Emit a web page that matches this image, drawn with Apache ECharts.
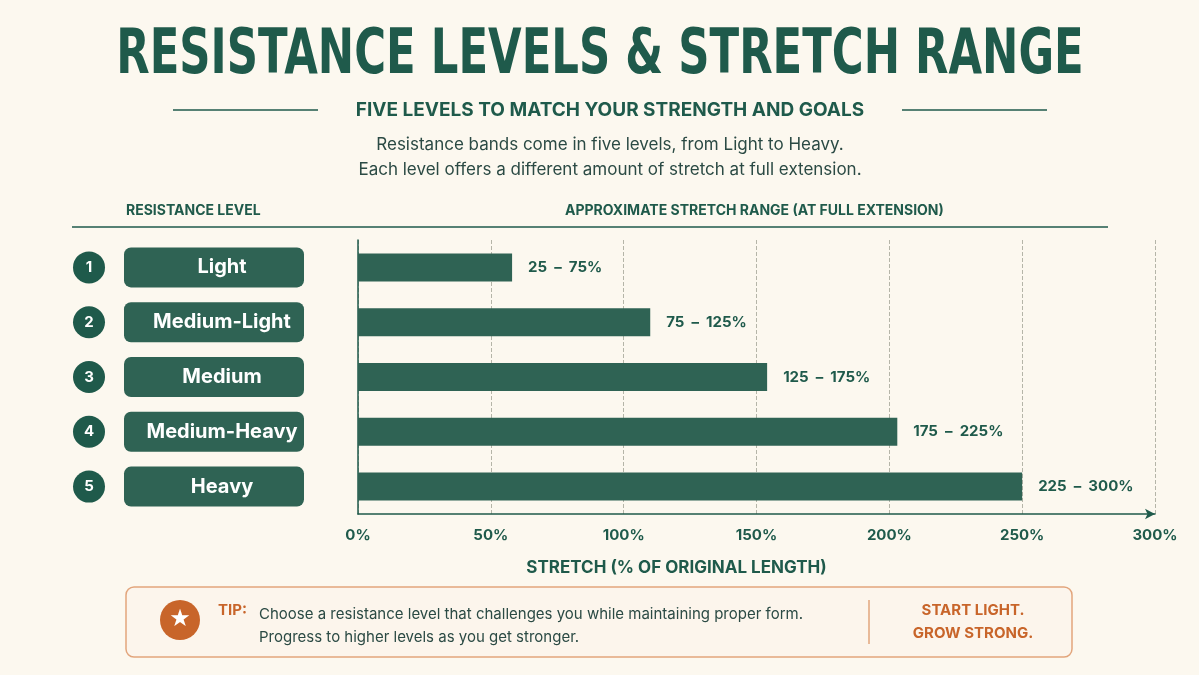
<!DOCTYPE html>
<html><head><meta charset="utf-8">
<script src="https://cdn.jsdelivr.net/npm/echarts@6/dist/echarts.min.js"></script>
<style>html,body{margin:0;padding:0;background:#fcf8ef}#c{width:1199px;height:675px}</style>
</head><body><div id="c"></div>
<script>
const levels = ['Light','Medium-Light','Medium','Medium-Heavy','Heavy'];
const barEnds = [58, 110, 154, 203, 250];
const rangeLow = [25, 75, 125, 175, 225];
const rangeHigh = [75, 125, 175, 225, 300];
const tickLabels = ['0%','50%','100%','150%','200%','250%','300%'];

const G = '#1f5a4b', BAR = '#2f6354', OR = '#c8652a';
const chart = echarts.init(document.getElementById('c'));
chart.setOption({
  backgroundColor: '#fcf8ef',
  textStyle: {fontFamily: 'Inter, "Noto Sans", sans-serif'},
  grid: {left: 358, right: 44, top: 240, bottom: 161},
  xAxis: {type: 'value', min: 0, max: 300, interval: 50,
    axisLine: {show: true, lineStyle: {color: G, width: 1.5}, symbol: ['none','arrow'], symbolSize: [8,10]},
    axisTick: {show: false},
    splitLine: {show: true, lineStyle: {type: 'dashed', color: '#b5b5a8'}},
    axisLabel: {color: G, fontWeight: 'bold', fontSize: 15, margin: 14,
      formatter: (v) => tickLabels[v/50]},
    name: 'STRETCH (% OF ORIGINAL LENGTH)', nameLocation: 'middle', nameGap: 45,
    nameTextStyle: {color: G, fontWeight: 'bold', fontSize: 17, padding: [0,0,0,-160]}
  },
  yAxis: {type: 'category', data: levels, inverse: true,
    axisLine: {show: true, lineStyle: {color: G, width: 1.5}}, axisTick: {show: false},
    axisLabel: {align: 'left', margin: 285,
      formatter: (v, i) => '{n|' + (i+1) + '}{s|}{b|' + v + '}',
      rich: {
        n: {width: 32, height: 32, borderRadius: 16, backgroundColor: G, color: '#fff', align: 'center', fontWeight: 'bold', fontSize: 15},
        s: {width: 19},
        b: {width: 164, height: 40, borderRadius: 7, backgroundColor: BAR, color: '#fff', fontWeight: 'bold', fontSize: 20, align: 'left', padding: [0,0,0,16]}
      }}
  },
  series: [{type: 'bar', data: barEnds, barWidth: 28, itemStyle: {color: BAR},
    label: {show: true, position: 'right', distance: 16, color: G, fontWeight: 'bold', fontSize: 15,
      formatter: (p) => rangeLow[p.dataIndex] + '  –  ' + rangeHigh[p.dataIndex] + '%'}}],
  graphic: [
    {type: 'text', x: 600, y: 57, scaleX: 0.7, style: {x: 0, y: 0, text: 'RESISTANCE LEVELS & STRETCH RANGE', fill: G, align: 'center', verticalAlign: 'middle', font: 'bold 62px "DejaVu Sans", sans-serif'}},
    {type: 'line', shape: {x1: 173, y1: 110, x2: 318, y2: 110}, style: {stroke: G, lineWidth: 1.5}},
    {type: 'line', shape: {x1: 902, y1: 110, x2: 1047, y2: 110}, style: {stroke: G, lineWidth: 1.5}},
    {type: 'text', x: 610, y: 110, style: {text: 'FIVE LEVELS TO MATCH YOUR STRENGTH AND GOALS', fill: G, align: 'center', verticalAlign: 'middle', font: 'bold 19px Inter, sans-serif'}},
    {type: 'text', x: 610, y: 132, style: {text: 'Resistance bands come in five levels, from Light to Heavy.\nEach level offers a different amount of stretch at full extension.', fill: '#2b4a44', font: '17px Inter, sans-serif', align: 'center', lineHeight: 25}},
    {type: 'text', left: 126, top: 204, style: {text: 'RESISTANCE LEVEL', fill: G, font: 'bold 14px Inter, sans-serif'}},
    {type: 'text', left: 565, top: 204, style: {text: 'APPROXIMATE STRETCH RANGE (AT FULL EXTENSION)', fill: G, font: 'bold 14px Inter, sans-serif'}},
    {type: 'line', shape: {x1: 72, y1: 227, x2: 1108, y2: 227}, style: {stroke: G, lineWidth: 1.5}},
    {type: 'rect', shape: {x: 126, y: 587, width: 946, height: 70, r: 8}, style: {fill: '#fcf5ec', stroke: '#e2a57c', lineWidth: 1.5}},
    {type: 'circle', shape: {cx: 180, cy: 620, r: 20}, style: {fill: OR}},
    {type: 'text', x: 180, y: 620, style: {text: '★', fill: '#fff', font: '24px "DejaVu Sans"', align: 'center', verticalAlign: 'middle'}},
    {type: 'text', left: 218, top: 603, style: {text: 'TIP:', fill: OR, font: 'bold 15px Inter, sans-serif'}},
    {type: 'text', left: 259, top: 603, style: {text: 'Choose a resistance level that challenges you while maintaining proper form.\nProgress to higher levels as you get stronger.', fill: '#2b4a44', font: '15px Inter, sans-serif', lineHeight: 23}},
    {type: 'line', shape: {x1: 869, y1: 600, x2: 869, y2: 644}, style: {stroke: '#e2a57c', lineWidth: 1.5}},
    {type: 'text', x: 973, y: 622, style: {text: 'START LIGHT.\nGROW STRONG.', fill: OR, font: 'bold 15px Inter, sans-serif', align: 'center', verticalAlign: 'middle', lineHeight: 23}}
  ]
});
</script></body></html>
